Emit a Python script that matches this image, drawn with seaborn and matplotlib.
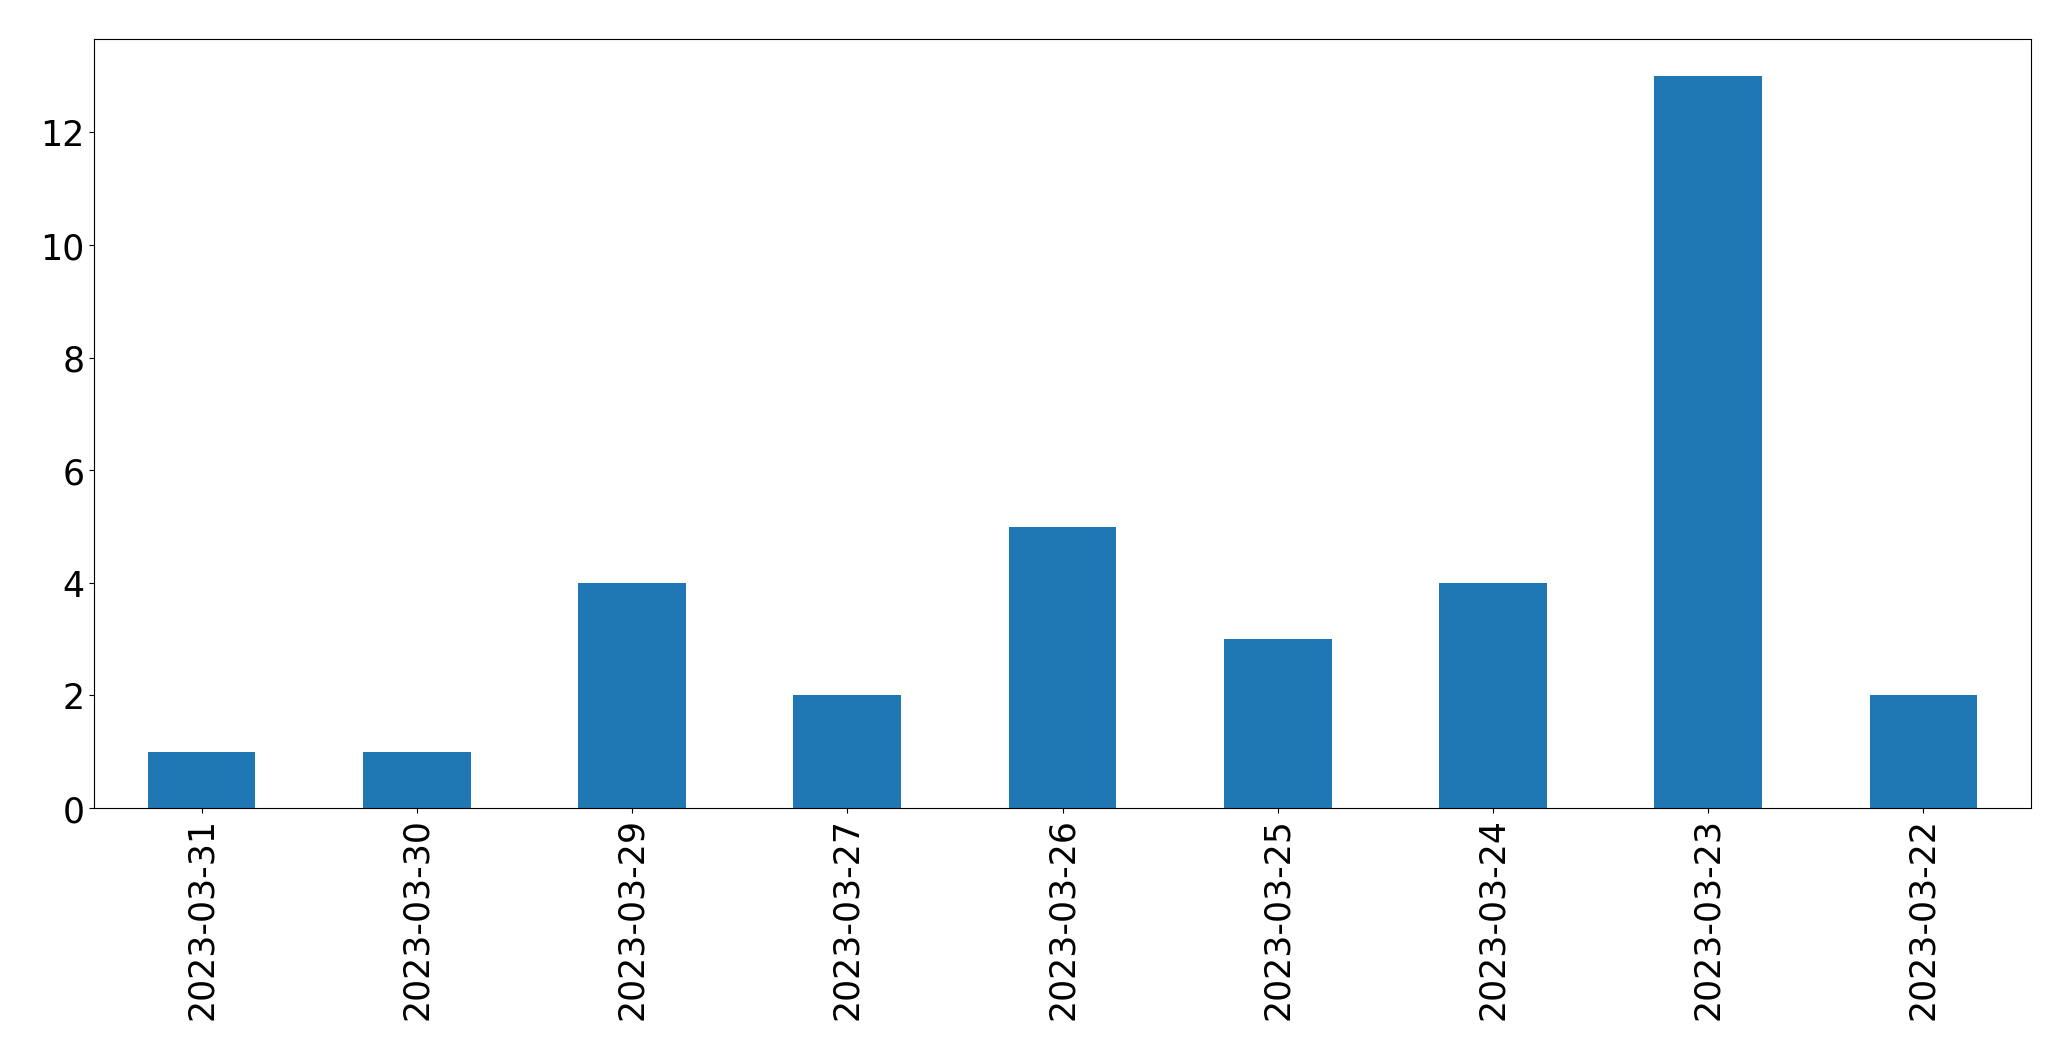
import pandas as pd
import matplotlib
matplotlib.use('Agg')
import matplotlib.pyplot as plt
import seaborn as sns

fechas = ['2023-03-31', '2023-03-30', '2023-03-29', '2023-03-27', '2023-03-26',
          '2023-03-25', '2023-03-24', '2023-03-23', '2023-03-22']
conteos = [1, 1, 4, 2, 5, 3, 4, 13, 2]

df = pd.DataFrame({'Fecha': fechas, 'Cantidad': conteos})

fig = plt.figure(figsize=(20.71, 10.605), dpi=100)
ax = fig.add_axes([94 / 2071, 1 - 809 / 1061, (2031 - 94) / 2071, (809 - 40) / 1061])

sns.barplot(data=df, x='Fecha', y='Cantidad', order=fechas, color='#1f77b4',
            saturation=1, width=0.5, ax=ax)

ax.set_xlim(-0.5, len(fechas) - 0.5)
ax.set_ylim(0, max(conteos) * 1.05)
ax.set_xlabel('')
ax.set_ylabel('')
ax.tick_params(axis='both', labelsize=25)
ax.tick_params(axis='x', rotation=90)

plt.savefig('out.png', dpi=100)
